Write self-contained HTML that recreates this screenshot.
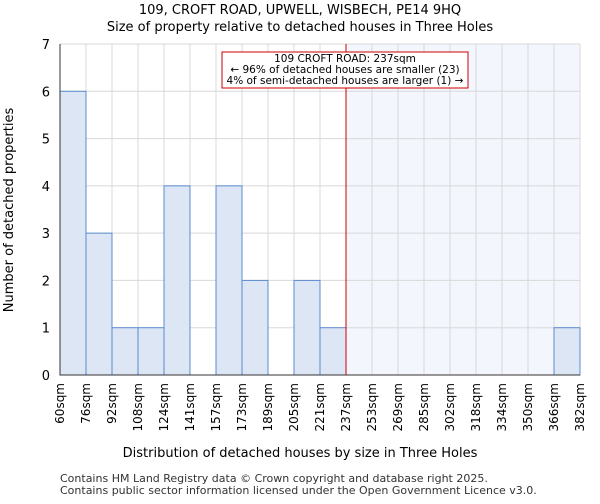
<!DOCTYPE html>
<html><head><meta charset="utf-8"><style>
body{margin:0;background:#fff;font-family:"DejaVu Sans","Liberation Sans",sans-serif}
</style></head><body>
<svg id="c" width="600" height="500" xmlns="http://www.w3.org/2000/svg" font-family="DejaVu Sans, Liberation Sans, sans-serif">
<text x="300" y="14" text-anchor="middle" font-size="13">109, CROFT ROAD, UPWELL, WISBECH, PE14 9HQ</text>
<text x="300" y="31" text-anchor="middle" font-size="13">Size of property relative to detached houses in Three Holes</text>
<g id="plot"></g>
<text x="300" y="457" text-anchor="middle" font-size="13">Distribution of detached houses by size in Three Holes</text>
<text transform="translate(13,210) rotate(-90)" text-anchor="middle" font-size="13">Number of detached properties</text>
<text x="60" y="482" font-size="11" fill="#333">Contains HM Land Registry data © Crown copyright and database right 2025.</text>
<text x="60" y="494" font-size="11" fill="#333">Contains public sector information licensed under the Open Government Licence v3.0.</text>
</svg>
<script>
const binLabels=["60sqm","76sqm","92sqm","108sqm","124sqm","141sqm","157sqm","173sqm","189sqm","205sqm","221sqm","237sqm","253sqm","269sqm","285sqm","302sqm","318sqm","334sqm","350sqm","366sqm","382sqm"];
const counts=[6,3,1,1,4,0,4,2,0,2,1,0,0,0,0,0,0,0,0,1];
const yTicks=[0,1,2,3,4,5,6,7];
const markerIndex=11;
const X0=60,X1=580,Y0=375,Y1=44,YMAX=7;
const bw=(X1-X0)/counts.length;
const xs=i=>X0+i*bw;
const ys=v=>Y0-(v/YMAX)*(Y0-Y1);
const NS="http://www.w3.org/2000/svg";
const g=document.getElementById('plot');
function mk(t,a){const e=document.createElementNS(NS,t);for(const k in a)e.setAttribute(k,a[k]);g.appendChild(e);return e;}
let e=mk('rect',{x:xs(markerIndex),y:Y1,width:X1-xs(markerIndex),height:Y0-Y1,fill:'#f4f6fd'});


yTicks.forEach(t=>{
 let l=mk('line',{x1:X0,x2:X1,y1:ys(t),y2:ys(t),stroke:'#d8d8d8'});
 
 
 let tx=mk('text',{x:X0-10,y:ys(t)+5,'text-anchor':'end','font-size':'13'});tx.textContent=t;
 
 
});
binLabels.forEach((lb,i)=>{
 let l=mk('line',{x1:xs(i),x2:xs(i),y1:Y1,y2:Y0,stroke:'#d8d8d8'});
 
 
 let tx=mk('text',{transform:`translate(${xs(i)+4},${Y0+8}) rotate(-90)`,'text-anchor':'end','font-size':'12'});tx.textContent=lb;
 
 
});
counts.forEach((c,i)=>{
 if(c<=0)return;
 let r=mk('rect',{x:xs(i),y:ys(c),width:bw,height:Y0-ys(c),fill:'#dce6f4',stroke:'#5b8bd0','stroke-width':1});
 
 
});
let ax=mk('path',{d:`M${X0} ${Y1}V${Y0}H${X1}`,fill:'none',stroke:'#333'});


let ml=mk('line',{x1:xs(markerIndex),x2:xs(markerIndex),y1:Y1,y2:Y0,stroke:'#cc0000'});


let box=mk('rect',{x:222,y:52,width:246,height:36,fill:'#fff',stroke:'#cc0000'});


["109 CROFT ROAD: 237sqm","← 96% of detached houses are smaller (23)","4% of semi-detached houses are larger (1) →"].forEach((s,k)=>{
 let t=mk('text',{x:345,y:62+k*11,'text-anchor':'middle','font-size':'10.5'});t.textContent=s;
 
 
});
</script>
</body></html>
